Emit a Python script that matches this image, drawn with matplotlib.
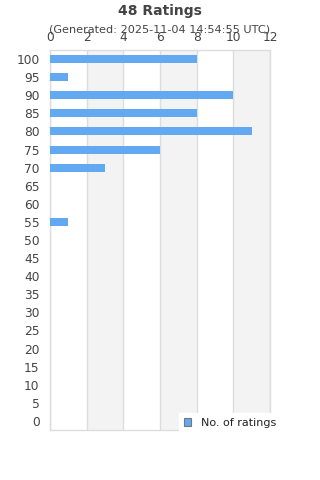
import matplotlib
matplotlib.use("Agg")
import matplotlib.pyplot as plt
from matplotlib.patches import Patch

categories = [0, 5, 10, 15, 20, 25, 30, 35, 40, 45, 50, 55, 60, 65, 70, 75, 80, 85, 90, 95, 100]
counts =     [0, 0, 0, 0, 0, 0, 0, 0, 0, 0, 0, 1, 0, 0, 3, 6, 11, 8, 10, 1, 8]
x_ticks = [0, 2, 4, 6, 8, 10, 12]
title = "48 Ratings"
subtitle = "(Generated: 2025-11-04 14:54:55 UTC)"
series_name = "No. of ratings"

bar_color = "#62a9f2"
text_color = "#444444"
grid_color = "#dddddd"
band_color = "#f3f3f3"

fig = plt.figure(figsize=(3.2, 4.8), dpi=100)
ax = fig.add_axes([50/320, 1-430/480, 220/320, 380/480])

pos = list(range(len(categories)))
for i in range(0, len(x_ticks) - 1):
    if i % 2 == 1:
        ax.axvspan(x_ticks[i], x_ticks[i+1], color=band_color, zorder=0, lw=0)
for t in x_ticks:
    ax.axvline(t, color=grid_color, lw=1, zorder=1)

ax.barh(pos, counts, height=0.44, color=bar_color, zorder=3, label=series_name)
ax.set_xlim(0, 12)
ax.set_ylim(-0.5, len(categories) - 0.5)
ax.set_yticks(pos)
ax.set_yticklabels([str(c) for c in categories])
ax.set_xticks(x_ticks)
ax.xaxis.tick_top()
ax.tick_params(axis='both', length=0, labelsize=8.8, colors=text_color)
ax.tick_params(axis='y', pad=7.5)
ax.tick_params(axis='x', pad=4.5)
for s in ax.spines.values():
    s.set_color(grid_color)
    s.set_linewidth(1)

fig.text(0.5, 1-11/480, title, ha='center', va='center', fontsize=10, fontweight='bold', color=text_color)
fig.text(0.5, 1-30/480, subtitle, ha='center', va='center', fontsize=8.1, color=text_color)

handle = Patch(facecolor=bar_color, edgecolor='#777777', linewidth=0.8)
leg = fig.legend([handle], [series_name], loc='lower right', bbox_to_anchor=(281/320, 1-432/480),
                 fontsize=8, frameon=True, fancybox=False, handlelength=0.7, handleheight=0.7,
                 borderpad=0.4, handletextpad=0.9, borderaxespad=0)
leg.get_frame().set_edgecolor('white')
leg.get_frame().set_facecolor('white')
leg.get_frame().set_alpha(1)
for t in leg.get_texts():
    t.set_color('#222222')

fig.savefig("out.png", dpi=100)
